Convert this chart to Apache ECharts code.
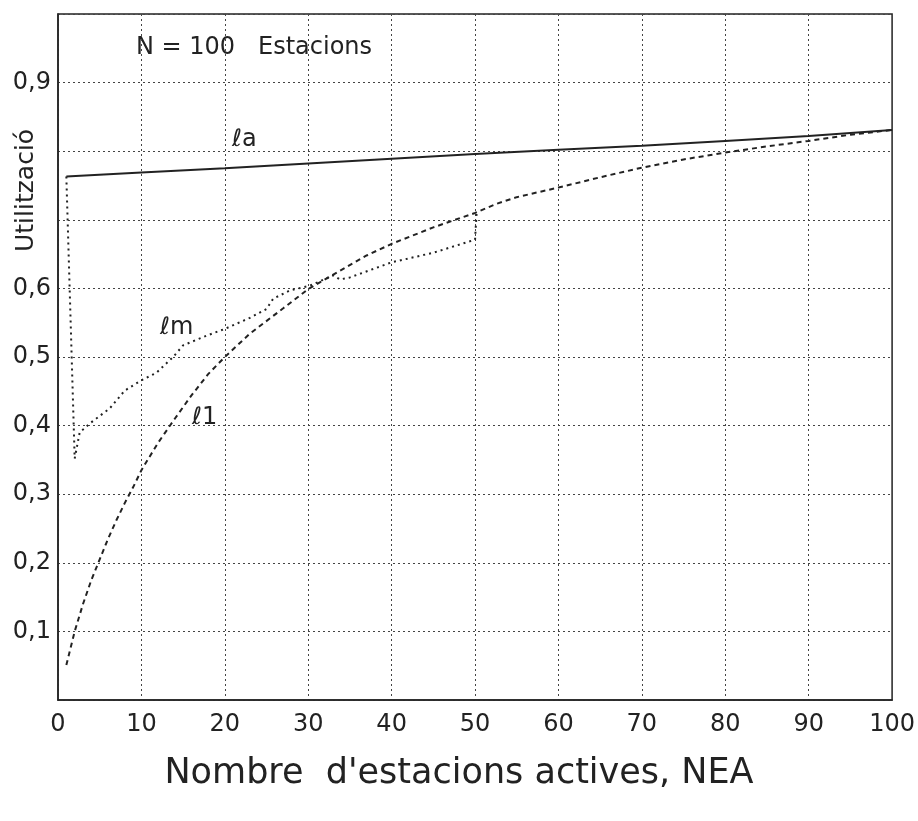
<!DOCTYPE html>
<html>
<head>
<meta charset="utf-8">
<script src="https://cdn.jsdelivr.net/npm/echarts@6/dist/echarts.min.js"></script>
<style>
html,body{margin:0;padding:0;background:#fff;}
#main{width:918px;height:821px;}
</style>
</head>
<body>
<div id="main"></div>
<script>
// NEA (x) , utilitzacio (y)
var la = [[1,0.763],[10,0.769],[20,0.775],[30,0.782],[40,0.789],[50,0.796],[60,0.802],[70,0.808],[80,0.815],[90,0.822],[100,0.831]];
var l1 = [[1,0.051],[2,0.10],[3,0.14],[4,0.175],[5,0.205],[6,0.235],[7,0.262],[8,0.287],[9,0.31],[10,0.335],[12,0.375],[14,0.41],[16,0.444],[18,0.475],[20,0.50],[23,0.534],[27,0.571],[30,0.599],[33,0.62],[37,0.648],[40,0.665],[45,0.689],[50,0.71],[52.5,0.723],[55,0.733],[60,0.747],[65,0.762],[70,0.776],[75,0.788],[80,0.798],[85,0.807],[90,0.815],[95,0.824],[100,0.831]];
var lm = [[1,0.763],[2,0.352],[2.6,0.39],[3.8,0.403],[6.2,0.425],[8,0.451],[10,0.466],[11.8,0.477],[13.8,0.50],[15,0.517],[17.8,0.531],[20,0.541],[23,0.557],[25,0.57],[25.8,0.585],[27.8,0.597],[30.2,0.604],[33,0.619],[33.8,0.613],[35,0.616],[40,0.638],[45,0.652],[50,0.671],[50.2,0.713]];
var yLabels = {'0.1':'0,1','0.2':'0,2','0.3':'0,3','0.4':'0,4','0.5':'0,5','0.6':'0,6','0.9':'0,9'};

var font = 'DejaVu Sans';
var myChart = echarts.init(document.getElementById('main'));
var option = {
	backgroundColor : '#fff',
	animation : false,
	grid : {
		left : 58, right : 25, top : 14, bottom : 121,
		show : true, borderColor : '#222', borderWidth : 1.5
	},
	xAxis : {
		type : 'value', min : 0, max : 100, interval : 10,
		axisLine : { lineStyle : { color : '#222', width : 1.5 } },
		axisTick : { show : false },
		axisLabel : { margin : 13, color : '#222', fontFamily : font, fontSize : 24 },
		splitLine : { lineStyle : { type : [2,3], color : '#444', width : 1 } }
	},
	yAxis : {
		type : 'value', min : 0, max : 1, interval : 0.1,
		axisLine : { show : true, lineStyle : { color : '#222', width : 1.5 } },
		axisTick : { show : false },
		axisLabel : {
			margin : 7, color : '#222', fontFamily : font, fontSize : 24,
			formatter : function(v){ return yLabels[v.toFixed(1)] || ''; }
		},
		splitLine : { lineStyle : { type : [2,3], color : '#444', width : 1 } }
	},
	graphic : [
		{ type : 'text', left : 136, top : 36, style : { text : 'N = 100   Estacions', font : '24px "DejaVu Sans"', fill : '#222' } },
		{ type : 'text', left : 232, top : 128, style : { text : 'ℓa', font : '24px "DejaVu Sans"', fill : '#222' } },
		{ type : 'text', left : 160, top : 316, style : { text : 'ℓm', font : '24px "DejaVu Sans"', fill : '#222' } },
		{ type : 'text', left : 192, top : 406, style : { text : 'ℓ1', font : '24px "DejaVu Sans"', fill : '#222' } },
		{ type : 'text', x : 14, y : 252, rotation : Math.PI/2, style : { text : 'Utilització', font : '25px "DejaVu Sans"', fill : '#222' } },
		{ type : 'text', left : 'center', top : 756, style : { text : "Nombre  d'estacions actives, NEA", font : '35px "DejaVu Sans"', fill : '#222' } }
	],
	series : [
		{ name : 'la', type : 'line', data : la, showSymbol : false, lineStyle : { color : '#222', width : 2 } },
		{ name : 'l1', type : 'line', data : l1, showSymbol : false, lineStyle : { color : '#222', width : 2, type : [5,4] } },
		{ name : 'lm', type : 'line', data : lm, showSymbol : false, lineStyle : { color : '#222', width : 2, type : [2,4] } }
	]
};
myChart.setOption(option);
</script>
</body>
</html>
